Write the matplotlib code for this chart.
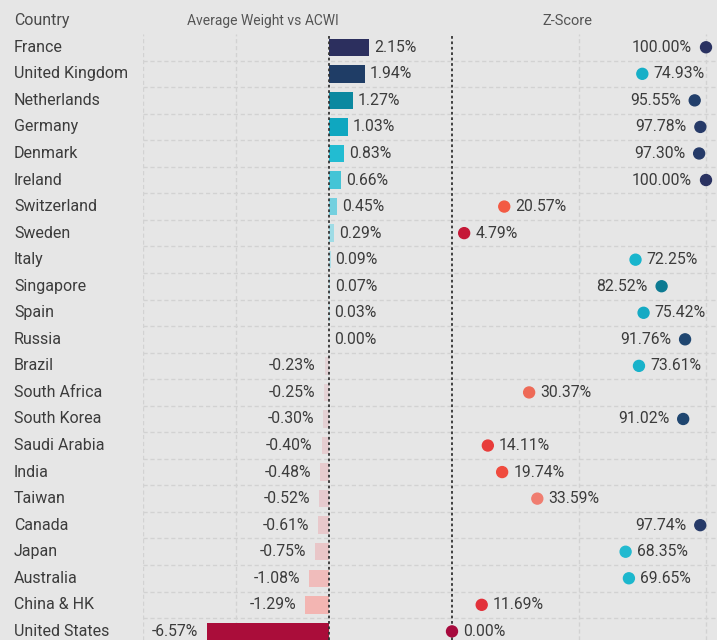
import matplotlib.pyplot as plt
from matplotlib.transforms import blended_transform_factory

countries = ["France", "United Kingdom", "Netherlands", "Germany", "Denmark", "Ireland",
             "Switzerland", "Sweden", "Italy", "Singapore", "Spain", "Russia", "Brazil",
             "South Africa", "South Korea", "Saudi Arabia", "India", "Taiwan", "Canada",
             "Japan", "Australia", "China & HK", "United States"]
weights = [2.15, 1.94, 1.27, 1.03, 0.83, 0.66, 0.45, 0.29, 0.09, 0.07, 0.03, 0.00,
           -0.23, -0.25, -0.30, -0.40, -0.48, -0.52, -0.61, -0.75, -1.08, -1.29, -6.57]
zscores = [100.00, 74.93, 95.55, 97.78, 97.30, 100.00, 20.57, 4.79, 72.25, 82.52, 75.42,
           91.76, 73.61, 30.37, 91.02, 14.11, 19.74, 33.59, 97.74, 68.35, 69.65, 11.69, 0.00]

bar_colors = ["#2c2f5e", "#1f3d66", "#0b88a0", "#0fa7c0", "#22bcd2", "#45c4d6", "#74d0df",
              "#9fdce6", "#b0dfe8", "#b8e0e8", "#c0e2e8", "#c8e3e8", "#e3d3d6", "#e4d2d5",
              "#e4d0d3", "#e5cdd0", "#e6cbce", "#e6cace", "#e8c8cb", "#e9c6c8", "#f0bcbb",
              "#f3b5b2", "#aa0d3a"]
dot_colors = ["#2a3261", "#16afc7", "#223f6b", "#263a68", "#253a68", "#2a3261", "#f35a43",
              "#c51837", "#18b5cd", "#0c7a92", "#14aac4", "#1f4670", "#18b2ca", "#ee6a57",
              "#1f4670", "#e83c3a", "#f04b3e", "#f07d70", "#263a68", "#22bad0", "#1cb7cd",
              "#e2313a", "#a70a3d"]

bg = "#e6e6e6"
txt = "#3c3c3c"
W, H = 717, 640
fig = plt.figure(figsize=(W / 100, H / 100), dpi=100, facecolor=bg)
plt.rcParams['font.family'] = ['Roboto', 'DejaVu Sans']

top = 34
rows = range(len(countries))
row_h = 26.55
ybottom = -0.5 + (H - top) / row_h

ax1 = fig.add_axes([143 / W, 0, (440 - 143) / W, (H - top) / H])
ax2 = fig.add_axes([440 / W, 0, (W - 440) / W, (H - top) / H])

for ax in (ax1, ax2):
    ax.set_facecolor(bg)
    ax.set_ylim(ybottom, -0.5)
    for s in ax.spines.values():
        s.set_visible(False)
    ax.set_xticks([])
    ax.set_yticks([])
    for i in range(len(countries) - 1):
        ax.axhline(i + 0.5, color="#d2d2d2", lw=1, ls=(0, (3, 2)), zorder=0)

ax1.set_xlim(-10, 111 / 18.6)
ax2.set_xlim(-12 / 2.54, 265 / 2.54)

for x in (-10, -5):
    ax1.axvline(x, color="#d2d2d2", lw=1, ls=(0, (3, 2)), zorder=0)
for x in (50, 100):
    ax2.axvline(x, color="#d2d2d2", lw=1, ls=(0, (3, 2)), zorder=0)

ax1.barh(list(rows), weights, height=0.66, color=bar_colors, zorder=2)
ax1.axvline(0, color="#333333", lw=1.3, ls=(0, (1.5, 1.5)), zorder=3)
for i, v in enumerate(weights):
    if v >= 0:
        ax1.annotate(f"{v:.2f}%", (v, i), xytext=(3.5, 0), textcoords="offset points",
                     ha="left", va="center", fontsize=11.3, color=txt)
    else:
        ax1.annotate(f"{v:.2f}%", (v, i), xytext=(-6.5, 0), textcoords="offset points",
                     ha="right", va="center", fontsize=11.3, color=txt)

ax2.axvline(0, color="#333333", lw=1.3, ls=(0, (1.5, 1.5)), zorder=1)
ax2.scatter(zscores, list(rows), s=62, color=dot_colors, zorder=3, clip_on=False)
for i, v in enumerate(zscores):
    if v > 80:
        ax2.annotate(f"{v:.2f}%", (v, i), xytext=(-10, 0), textcoords="offset points",
                     ha="right", va="center", fontsize=11.3, color=txt)
    else:
        ax2.annotate(f"{v:.2f}%", (v, i), xytext=(8, 0), textcoords="offset points",
                     ha="left", va="center", fontsize=11.3, color=txt)

trans = blended_transform_factory(fig.transFigure, ax1.transData)
for i, c in enumerate(countries):
    ax1.text(14 / W, i, c, transform=trans, ha="left", va="center", fontsize=11.5,
             color=txt, clip_on=False)

ax1.text(14 / W, -1, "Country", transform=trans, ha="left", va="center", fontsize=11.5,
         color="#4a4a4a", clip_on=False)
ax1.text(263 / W, -1, "Average Weight vs ACWI", transform=trans, ha="center", va="center",
         fontsize=10, color="#555555", clip_on=False)
ax1.text(567 / W, -1, "Z-Score", transform=trans, ha="center", va="center",
         fontsize=10.5, color="#555555", clip_on=False)

fig.savefig("out.png", dpi=100, facecolor=bg)
